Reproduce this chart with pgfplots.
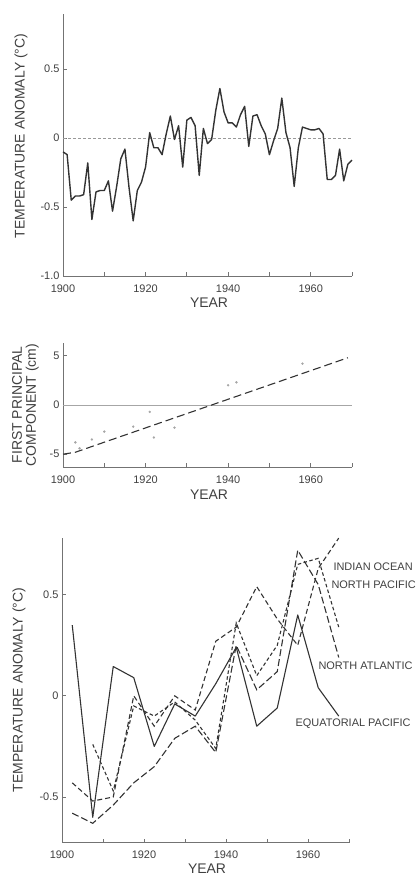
\documentclass[border=0pt]{standalone}
\usepackage{fontspec}
\setmainfont{Liberation Sans}
\usepackage{pgfplots}
\pgfplotsset{compat=1.18}

\newcommand\tickfont{\fontsize{11}{12}\selectfont}
\newcommand\labfont{\fontsize{14}{14}\selectfont}
\newcommand\keyfont{\fontsize{11}{12}\selectfont}
\colorlet{ink}{black!75}
\colorlet{curve}{black!80}
\colorlet{axisgray}{black!55}

\pgfplotsset{
  panel/.style={
    scale only axis, anchor=south west, clip=false,
    axis x line*=bottom, axis y line*=left,
    axis line style={axisgray, line width=0.9bp},
    xmin=1900, xmax=1970,
    xtick={1900,1920,1940,1960},
    minor xtick={1910,1930,1950,1970},
    tick align=inside,
    major tick length=4bp, minor tick length=4bp,
    tick style={axisgray, line width=0.8bp},
    /pgf/number format/assume math mode=true,
    /pgf/number format/1000 sep={},
    ticklabel style={font=\tickfont, text=ink},
    xticklabel style={yshift=-5bp},
  },
}

\begin{document}
\begin{tikzpicture}
\useasboundingbox (0,0) rectangle (416bp,875bp);

% ---- annual temperature anomaly, 1900-1970
\begin{axis}[panel, at={(63bp,599bp)}, width=289bp, height=262bp,
  ymin=-1.0, ymax=0.9, ytick={-1,-0.5,0,0.5}, yticklabels={-1.0,-0.5,0,0.5}]
\addplot[black!40, line width=0.6bp, dash pattern=on 3bp off 2bp] coordinates {(1900,0) (1970,0)};
\addplot[curve, line width=1.4bp, line join=round] coordinates {
(1900,-0.10) (1901,-0.12) (1902,-0.45) (1903,-0.42) (1904,-0.42) (1905,-0.41)
(1906,-0.18) (1907,-0.59) (1908,-0.39) (1909,-0.38) (1910,-0.38) (1911,-0.31)
(1912,-0.53) (1913,-0.35) (1914,-0.15) (1915,-0.08) (1916,-0.36) (1917,-0.60)
(1918,-0.38) (1919,-0.32) (1920,-0.21) (1921,0.04) (1922,-0.07) (1923,-0.07)
(1924,-0.12) (1925,0.03) (1926,0.16) (1927,-0.01) (1928,0.09) (1929,-0.21)
(1930,0.13) (1931,0.15) (1932,0.09) (1933,-0.27) (1934,0.07) (1935,-0.04)
(1936,-0.01) (1937,0.20) (1938,0.36) (1939,0.19) (1940,0.11) (1941,0.11)
(1942,0.08) (1943,0.17) (1944,0.23) (1945,-0.06) (1946,0.16) (1947,0.17)
(1948,0.09) (1949,0.03) (1950,-0.12) (1951,-0.02) (1952,0.07) (1953,0.29)
(1954,0.04) (1955,-0.07) (1956,-0.35) (1957,-0.07) (1958,0.08) (1959,0.07)
(1960,0.06) (1961,0.06) (1962,0.07) (1963,0.03) (1964,-0.30) (1965,-0.30)
(1966,-0.27) (1967,-0.08) (1968,-0.31) (1969,-0.19) (1970,-0.16)};
\end{axis}

% ---- first principal component with its linear trend
\begin{axis}[panel, at={(63bp,408bp)}, width=289bp, height=124bp,
  ymin=-6.3, ymax=6.3, ytick={-5,0,5}]
\addplot[black!35, line width=0.8bp] coordinates {(1900,0) (1970,0)};
\addplot[curve, line width=1.1bp, dash pattern=on 8bp off 4bp] coordinates {(1900,-5.0) (1903,-4.8) (1969,4.8)};
\addplot[only marks, mark=*, mark size=1bp, black!35] coordinates {
(1903,-3.8) (1904,-4.4) (1907,-3.5) (1910,-2.7) (1917,-2.2) (1921,-0.7)
(1922,-3.3) (1927,-2.3) (1940,2.0) (1942,2.3) (1958,4.2)};
\end{axis}

% ---- pentad anomalies by ocean region
\begin{axis}[panel, at={(62bp,32.3bp)}, width=287bp, height=305bp,
  ymin=-0.726, ymax=0.782, ytick={-0.5,0,0.5}, yticklabels={-0.5,0,0.5}]
% Equatorial Pacific
\addplot[curve, line width=1.1bp, line join=round] coordinates {
(1902.5,0.35) (1907.5,-0.60) (1912.5,0.145) (1917.5,0.09) (1922.5,-0.25)
(1927.5,-0.04) (1932.5,-0.10) (1937.5,0.06) (1942.5,0.24) (1947.5,-0.15)
(1952.5,-0.06) (1957.5,0.40) (1962.5,0.04) (1967.5,-0.10)};
% North Atlantic
\addplot[curve, line width=1.1bp, dash pattern=on 7bp off 3bp] coordinates {
(1902.5,-0.58) (1907.5,-0.63) (1912.5,-0.54) (1917.5,-0.43) (1922.5,-0.35)
(1927.5,-0.21) (1932.5,-0.15) (1937.5,-0.28) (1942.5,0.25) (1947.5,0.03)
(1952.5,0.12) (1957.5,0.72) (1962.5,0.55) (1967.5,0.19)};
% Indian Ocean
\addplot[curve, line width=1.1bp, dash pattern=on 5bp off 3bp] coordinates {
(1902.5,-0.43) (1907.5,-0.52) (1912.5,-0.50) (1917.5,0.0) (1922.5,-0.15)
(1927.5,0.0) (1932.5,-0.07) (1937.5,0.27) (1942.5,0.34) (1947.5,0.54)
(1952.5,0.38) (1957.5,0.25) (1962.5,0.63) (1967.5,0.78)};
% North Pacific
\addplot[curve, line width=1.1bp, dash pattern=on 3.5bp off 2.5bp] coordinates {
(1907.5,-0.24) (1912.5,-0.47) (1917.5,-0.05) (1922.5,-0.10) (1927.5,-0.03)
(1932.5,-0.12) (1937.5,-0.26) (1942.5,0.36) (1947.5,0.10) (1952.5,0.25)
(1957.5,0.65) (1962.5,0.68) (1967.5,0.34)};
\end{axis}

% axis titles
\node[font=\labfont, text=ink, rotate=90] at (21bp,739bp) {TEMPERATURE ANOMALY (°C)};
\node[font=\labfont, text=ink] at (209bp,572bp) {YEAR};
\node[font=\labfont, text=ink, rotate=90, align=center] at (25.5bp,470bp) {FIRST PRINCIPAL\\COMPONENT (cm)};
\node[font=\labfont, text=ink] at (209bp,380bp) {YEAR};
\node[font=\labfont, text=ink, rotate=90] at (19bp,185bp) {TEMPERATURE ANOMALY (°C)};
\node[font=\labfont, text=ink] at (207bp,6bp) {YEAR};

% region names
\node[font=\keyfont, text=ink, anchor=west] at (330bp,308bp) {INDIAN OCEAN};
\node[font=\keyfont, text=ink, anchor=west] at (328bp,290bp) {NORTH PACIFIC};
\node[font=\keyfont, text=ink, anchor=west] at (315bp,209bp) {NORTH ATLANTIC};
\node[font=\keyfont, text=ink, anchor=west] at (292bp,151bp) {EQUATORIAL PACIFIC};
\end{tikzpicture}
\end{document}
